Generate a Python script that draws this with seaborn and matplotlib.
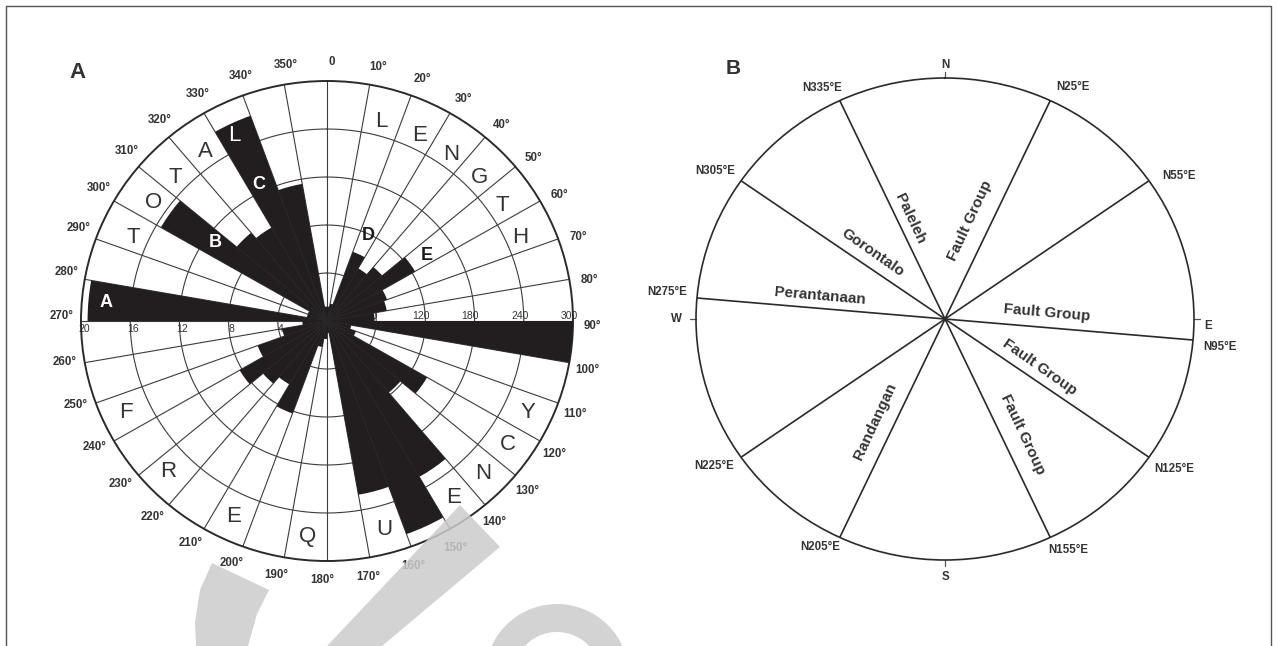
import numpy as np
import matplotlib
matplotlib.use('Agg')
import matplotlib.pyplot as plt
from matplotlib.patches import Polygon
import seaborn as sns

sns.set_theme(style='white')
plt.rcParams['font.family'] = ['Liberation Sans', 'DejaVu Sans']

# ---------------------------------------------------------------------------
# data (10 degree classes, value = class start)
# upper half: total length (scale 0-300), lower half: frequency (scale 0-20)
# ---------------------------------------------------------------------------
length_bins = [270, 280, 290, 300, 310, 320, 330, 340, 350, 0, 10, 20, 30, 40, 50, 60, 70, 80]
length_vals = [292, 25, 25, 234, 144, 135, 273, 174, 18, 18, 22, 92, 76, 88, 124, 78, 74, 58]

freq_bins = [90, 100, 110, 120, 130, 140, 150, 160, 170, 180, 190, 200, 210, 220, 230, 240, 250, 260]
freq_vals = [20, 2, 2.5, 9.4, 7.8, 15, 18.9, 14.7, 1, 1.5, 2.2, 8.2, 6.1, 6.8, 8.2, 6, 3.7, 2]

freq_ticks = [20, 16, 12, 8, 4]
length_ticks = [60, 120, 180, 240, 300]

# (letter, bearing) for the axis words
word_total = [('T', 294), ('O', 305), ('T', 314), ('A', 325), ('L', 334)]
word_length = [('L', 15), ('E', 26), ('N', 36), ('G', 46), ('T', 56), ('H', 66)]
word_freq = [('F', 245), ('R', 226), ('E', 205), ('Q', 185), ('U', 165),
             ('E', 145), ('N', 135), ('C', 125), ('Y', 115)]
bar_marks = [('A', 275, 18.0, 'white'), ('B', 306, 11.2, 'white'), ('C', 334, 12.7, 'white'),
             ('D', 25, 7.9, '#1a1a1a'), ('E', 56, 9.8, '#1a1a1a')]

# panel B: fault directions (diameters) and labels
fault_dirs = [25, 55, 95, 125, 155]
rim_labels = [('N335°E', 332.7, 1.08), ('N305°E', 303.7, 1.11), ('N275°E', 275.8, 1.12),
              ('N25°E', 28.2, 1.09), ('N55°E', 57.7, 1.11), ('N95°E', 96.0, 1.11),
              ('N125°E', 124.0, 1.11), ('N155°E', 152.7, 1.08), ('N205°E', 207.9, 1.07),
              ('N225°E', 236.7, 1.11)]
compass = [('N', 0, 1.055), ('E', 91.5, 1.055), ('S', 180, 1.07), ('W', 270, 1.08)]
fault_names = [('Paleleh', 341.5, 0.44, -65), ('Fault Group', 13.7, 0.42, 65),
               ('Gorontalo', 313.5, 0.40, -35), ('Perantanaan', 281, 0.51, -5),
               ('Fault Group', 86.5, 0.41, -5), ('Fault Group', 118, 0.43, -35),
               ('Fault Group', 147, 0.57, -65), ('Randangan', 213.4, 0.51, 65)]

ink = '#2a2a2a'
bar_col = '#221e1f'
W, H = 1277, 646

fig = plt.figure(figsize=(W / 100, H / 100), dpi=100)
fig.patch.set_facecolor('white')


def polar_axes(cx, cy, rx, ry):
    ax = fig.add_axes([(cx - rx) / W, (H - cy - ry) / H, 2 * rx / W, 2 * ry / H],
                      projection='polar')
    ax.set_theta_zero_location('N')
    ax.set_theta_direction(-1)
    ax.set_aspect('auto')
    ax.grid(False)
    ax.set_xticks([])
    ax.set_yticks([])
    ax.set_facecolor('white')
    ax.spines['polar'].set_color(ink)
    ax.spines['polar'].set_linewidth(1.4)
    return ax


##############################################################################
# A - rose diagram
##############################################################################
axA = polar_axes(327, 321, 246, 240)
axA.set_ylim(0, 20)

th = np.linspace(0, 2 * np.pi, 361)
for r in [4, 8, 12, 16]:
    axA.plot(th, np.full_like(th, r), color='#3c3c3c', lw=0.8, zorder=1)
for a in range(0, 360, 10):
    axA.plot([np.radians(a)] * 2, [0, 20], color='#3c3c3c', lw=0.8, zorder=1)

w = np.radians(10)
axA.bar(np.radians(np.array(length_bins) + 5), np.array(length_vals) * 20 / 300,
        width=w, color=bar_col, linewidth=0, zorder=3)
axA.bar(np.radians(np.array(freq_bins) + 5), freq_vals,
        width=w, color=bar_col, linewidth=0, zorder=3)

for a in range(0, 360, 10):
    txt = '0' if a == 0 else f'{a}°'
    axA.text(np.radians(a + 1), 21.6, txt, ha='center', va='center',
             fontsize=8.3, fontweight='bold', color='#333333')

for v in freq_ticks:
    axA.annotate(str(v), xy=(np.radians(270), v), xytext=(2, -6),
                 textcoords='offset points', ha='center', va='center',
                 fontsize=7.5, color='#333333', zorder=2)
for v in length_ticks:
    axA.annotate(str(v), xy=(np.radians(90), v * 20 / 300), xytext=(-3, 3.5),
                 textcoords='offset points', ha='center', va='center',
                 fontsize=7.5, color='#333333', zorder=2)

for ch, b in word_total:
    col = 'white' if ch == 'L' else '#333333'
    axA.text(np.radians(b), 17.2, ch, ha='center', va='center', fontsize=16,
             color=col, zorder=5)
for ch, b in word_length:
    axA.text(np.radians(b), 17.2, ch, ha='center', va='center', fontsize=16,
             color='#333333', zorder=5)
for ch, b in word_freq:
    axA.text(np.radians(b), 18.0, ch, ha='center', va='center', fontsize=16,
             color='#333333', zorder=5)
for ch, b, r, col in bar_marks:
    axA.text(np.radians(b), r, ch, ha='center', va='center', fontsize=13,
             fontweight='bold', color=col, zorder=5)

##############################################################################
# B - fault directions
##############################################################################
axB = polar_axes(945, 319, 249, 241)
axB.set_ylim(0, 1)
axB.spines['polar'].set_linewidth(1.2)

for a in fault_dirs:
    t1, t2 = np.radians(a), np.radians(a + 180)
    axB.plot([t1, t1, t2], [1, 0, 1], color=ink, lw=1.2)

for s, b, r in rim_labels:
    axB.text(np.radians(b), r, s, ha='center', va='center', fontsize=8.3,
             fontweight='bold', color='#333333')
for s, b, r in compass:
    axB.text(np.radians(b), r, s, ha='center', va='center', fontsize=8.3,
             fontweight='bold', color='#333333')
    t = np.radians(round(b / 90) * 90)
    axB.plot([t, t], [1, 1.025], color='#555555', lw=0.9, clip_on=False)

for s, b, r, rot in fault_names:
    axB.text(np.radians(b), r, s, ha='center', va='center', rotation=rot,
             rotation_mode='anchor', fontsize=11, fontweight='bold', color='#333333')

fig.text(77 / W, 1 - 73 / H, 'A', ha='center', va='center', fontsize=16,
         fontweight='bold', color='#333333')
fig.text(733 / W, 1 - 69 / H, 'B', ha='center', va='center', fontsize=15,
         fontweight='bold', color='#333333')

##############################################################################
# frame + grey watermark strokes lying over the picture
##############################################################################
ov = fig.add_axes([0, 0, 1, 1], zorder=10)
ov.set_xlim(0, W)
ov.set_ylim(H, 0)
ov.axis('off')
ov.patch.set_alpha(0)

ov.plot([6, 6, 1271, 1271], [H, 6, 6, H], color='#555555', lw=1.0)

wm = dict(facecolor='#cccccc', edgecolor='none', alpha=0.85)
ov.add_patch(Polygon([(212, 563), (269, 590), (257, 614), (248, 646), (196, 646),
                      (195, 622), (200, 590)], **wm))
ov.add_patch(Polygon([(460, 505), (500, 547), (382, 646), (327, 646)], **wm))
t = np.linspace(0, np.pi, 40)
outer = np.c_[557 + 72 * np.cos(t), 676 - 72 * np.sin(t)]
inner = np.c_[557 + 44 * np.cos(t[::-1]), 676 - 44 * np.sin(t[::-1])]
ov.add_patch(Polygon(np.vstack([outer, inner]), **wm))

fig.savefig('out.png', dpi=100, facecolor='white')
